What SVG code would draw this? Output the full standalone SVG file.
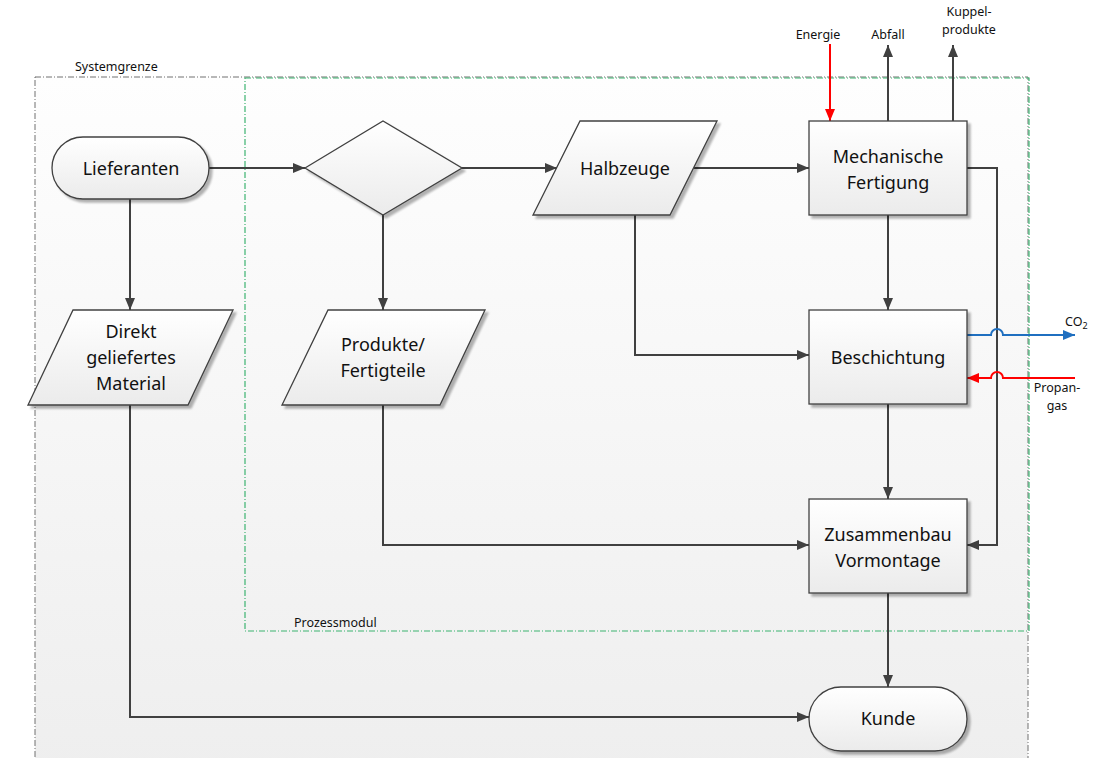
<svg xmlns="http://www.w3.org/2000/svg" width="1094" height="758" viewBox="0 0 1094 758">
  <defs>
    <linearGradient id="bg" x1="0" y1="0" x2="0" y2="1">
      <stop offset="0" stop-color="#fefefe"/>
      <stop offset="1" stop-color="#eeeeee"/>
    </linearGradient>
    <linearGradient id="nodeFill" x1="0" y1="0" x2="0" y2="1">
      <stop offset="0" stop-color="#ffffff"/>
      <stop offset="1" stop-color="#ebebeb"/>
    </linearGradient>
    <filter id="shadow" x="-10%" y="-10%" width="130%" height="130%">
      <feGaussianBlur in="SourceAlpha" stdDeviation="1.2"/>
      <feOffset dx="3" dy="3" result="b"/>
      <feComponentTransfer><feFuncA type="linear" slope="0.3"/></feComponentTransfer>
      <feMerge><feMergeNode/><feMergeNode in="SourceGraphic"/></feMerge>
    </filter>
    <marker id="arr" viewBox="0 0 12 10" refX="12" refY="5" markerWidth="12" markerHeight="10" markerUnits="userSpaceOnUse" orient="auto">
      <path d="M0,0 L12,5 L0,10 Z" fill="#404040"/>
    </marker>
    <marker id="arrRed" viewBox="0 0 12 10" refX="12" refY="5" markerWidth="12" markerHeight="10" markerUnits="userSpaceOnUse" orient="auto">
      <path d="M0,0 L12,5 L0,10 Z" fill="#ff0000"/>
    </marker>
    <marker id="arrBlue" viewBox="0 0 12 10" refX="12" refY="5" markerWidth="12" markerHeight="10" markerUnits="userSpaceOnUse" orient="auto">
      <path d="M0,0 L12,5 L0,10 Z" fill="#1f6fc0"/>
    </marker>
  </defs>
  <style>
    .node { fill: url(#nodeFill); stroke: #404040; stroke-width: 1.3; filter: url(#shadow); }
    .label { font-family: "Noto Sans", "Open Sans", sans-serif; font-size: 18px; fill: #111; text-anchor: middle; }
    .small { font-family: "Noto Sans", "Open Sans", sans-serif; font-size: 12.5px; fill: #111; }
    .mid { text-anchor: middle; }
    .conn { fill: none; stroke: #404040; stroke-width: 2; }
    .red { fill: none; stroke: #ff0000; stroke-width: 2; }
    .blue { fill: none; stroke: #1f6fc0; stroke-width: 2; }
  </style>

  <rect width="1094" height="758" fill="#ffffff"/>

  <!-- system boundary -->
  <g id="systemgrenze">
    <rect x="35" y="77" width="993" height="700" fill="url(#bg)" stroke="#707070" stroke-width="1" stroke-dasharray="6,2,1,2"/>
    <text class="small" x="75" y="71">Systemgrenze</text>
  </g>

  <!-- process module boundary -->
  <g id="prozessmodul">
    <rect x="245" y="78" width="784" height="553" fill="none" stroke="#3cb371" stroke-width="1.2" stroke-dasharray="6,2,1,2"/>
    <text class="small" x="294" y="627">Prozessmodul</text>
  </g>

  <!-- connectors -->
  <g id="connectors">
    <path class="conn" d="M209,168 H305" marker-end="url(#arr)"/>
    <path class="conn" d="M130,199 V310" marker-end="url(#arr)"/>
    <path class="conn" d="M462,168 H557" marker-end="url(#arr)"/>
    <path class="conn" d="M383,215 V310" marker-end="url(#arr)"/>
    <path class="conn" d="M694,168 H809" marker-end="url(#arr)"/>
    <path class="conn" d="M635,215 V355 H809" marker-end="url(#arr)"/>
    <path class="conn" d="M888,215 V310" marker-end="url(#arr)"/>
    <path class="conn" d="M967,168 H997 V545 H967" marker-end="url(#arr)"/>
    <path class="conn" d="M888,404 V499" marker-end="url(#arr)"/>
    <path class="conn" d="M383,405 V545 H809" marker-end="url(#arr)"/>
    <path class="conn" d="M888,593 V687" marker-end="url(#arr)"/>
    <path class="conn" d="M130,405 V717 H809" marker-end="url(#arr)"/>
    <path class="red" d="M830,44 V121" marker-end="url(#arrRed)"/>
    <path class="conn" d="M888,121 V45" marker-end="url(#arr)"/>
    <path class="conn" d="M953,121 V45" marker-end="url(#arr)"/>
    <path class="blue" d="M967,335 H991 A6,6 0 0 1 1003,335 H1075" marker-end="url(#arrBlue)"/>
    <path class="red" d="M1075,378 H1003 A6,6 0 0 0 991,378 H967" marker-end="url(#arrRed)"/>
    <text class="small mid" x="818" y="39">Energie</text>
    <text class="small mid" x="888" y="39">Abfall</text>
    <text class="small mid" x="969" y="16">Kuppel-</text>
    <text class="small mid" x="969" y="34">produkte</text>
    <text class="small" x="1065" y="326">CO<tspan font-size="9" dy="3">2</tspan></text>
    <text class="small mid" x="1057" y="392">Propan-</text>
    <text class="small mid" x="1057" y="410">gas</text>
  </g>

  <g id="lieferanten">
    <rect class="node" x="52" y="137" width="157" height="62" rx="31" ry="31"/>
    <text class="label" x="131" y="175">Lieferanten</text>
  </g>

  <g id="entscheidung">
    <polygon class="node" points="305,168 383,121 462,168 383,215"/>
  </g>

  <g id="halbzeuge">
    <polygon class="node" points="580,121 717,121 670,215 533,215"/>
    <text class="label" x="625" y="175">Halbzeuge</text>
  </g>

  <g id="mechanische-fertigung">
    <rect class="node" x="809" y="121" width="158" height="94"/>
    <text class="label" x="888" y="163">Mechanische</text>
    <text class="label" x="888" y="189">Fertigung</text>
  </g>

  <g id="direkt-material">
    <polygon class="node" points="73,310 233,310 188,405 28,405"/>
    <text class="label" x="131" y="338">Direkt</text>
    <text class="label" x="131" y="364">geliefertes</text>
    <text class="label" x="131" y="390">Material</text>
  </g>

  <g id="produkte">
    <polygon class="node" points="328,310 485,310 440,405 282,405"/>
    <text class="label" x="383" y="351">Produkte/</text>
    <text class="label" x="383" y="377">Fertigteile</text>
  </g>

  <g id="beschichtung">
    <rect class="node" x="809" y="310" width="158" height="94"/>
    <text class="label" x="888" y="364">Beschichtung</text>
  </g>

  <g id="zusammenbau">
    <rect class="node" x="809" y="499" width="158" height="94"/>
    <text class="label" x="888" y="541">Zusammenbau</text>
    <text class="label" x="888" y="567">Vormontage</text>
  </g>

  <g id="kunde">
    <rect class="node" x="809" y="687" width="158" height="64" rx="32" ry="32"/>
    <text class="label" x="888" y="725">Kunde</text>
  </g>
</svg>
